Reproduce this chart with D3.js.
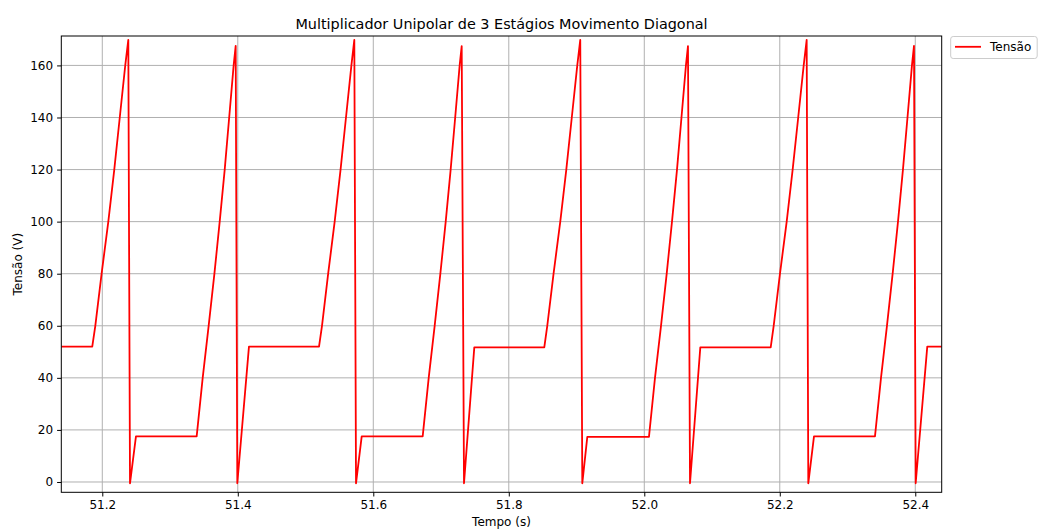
<!DOCTYPE html>
<html>
<head>
<meta charset="utf-8">
<script src="https://cdn.jsdelivr.net/npm/d3@7"></script>
<style>
  html, body { margin: 0; padding: 0; background: #fff; }
  svg { display: block; font-family: "DejaVu Sans", sans-serif; }
</style>
</head>
<body>
<svg id="chart" width="1038" height="532"></svg>
<script>
// ---- data ----
const tempo = [
  51.1395, 51.1852, 51.1897, 51.1990, 51.2089, 51.2177, 51.2258, 51.2339, 51.2384, 51.2409, 51.2497,
  51.3393, 51.3482, 51.3570, 51.3655, 51.3733, 51.3807, 51.3873, 51.3939, 51.3969, 51.3993, 51.4165,
  51.5199, 51.5243, 51.5334, 51.5430, 51.5517, 51.5597, 51.5677, 51.5720, 51.5745, 51.5829,
  51.6729, 51.6818, 51.6906, 51.6990, 51.7069, 51.7142, 51.7209, 51.7275, 51.7305, 51.7339, 51.7491,
  51.8524, 51.8568, 51.8661, 51.8760, 51.8849, 51.8930, 51.9011, 51.9055, 51.9085, 51.9159,
  52.0069, 52.0158, 52.0247, 52.0331, 52.0409, 52.0483, 52.0549, 52.0615, 52.0645, 52.0675, 52.0827,
  52.1866, 52.1910, 52.2003, 52.2102, 52.2190, 52.2272, 52.2353, 52.2397, 52.2421, 52.2505,
  52.3405, 52.3494, 52.3582, 52.3666, 52.3745, 52.3818, 52.3885, 52.3951, 52.3981, 52.4006, 52.4177, 52.4390
];
const tensao = [
  52.0, 52.0, 60, 80, 100, 120, 140, 160, 169.8, -0.5, 17.5,
  17.5, 40, 60, 80, 100, 120, 140, 160, 167.5, -0.5, 52.0,
  52.0, 60, 80, 100, 120, 140, 160, 169.8, -0.5, 17.5,
  17.5, 40, 60, 80, 100, 120, 140, 160, 167.4, -0.5, 51.7,
  51.7, 60, 80, 100, 120, 140, 160, 169.8, -0.5, 17.3,
  17.3, 40, 60, 80, 100, 120, 140, 160, 167.4, -0.5, 51.7,
  51.7, 60, 80, 100, 120, 140, 160, 169.8, -0.5, 17.5,
  17.5, 40, 60, 80, 100, 120, 140, 160, 167.5, -0.5, 52.0, 52.0
];
const xTicks = [51.2, 51.4, 51.6, 51.8, 52.0, 52.2, 52.4];
const yTicks = [0, 20, 40, 60, 80, 100, 120, 140, 160];
const xDomain = [51.1395, 52.4390];
const yDomain = [-3.96, 171.3];
const titulo = "Multiplicador Unipolar de 3 Estágios Movimento Diagonal";
const rotuloX = "Tempo (s)";
const rotuloY = "Tensão (V)";
const serieNome = "Tensão";

// ---- layout ----
const L = 61.3, R = 941.7, T = 36, B = 492.3;
const svg = d3.select("#chart");
const x = d3.scaleLinear().domain(xDomain).range([L, R]);
const y = d3.scaleLinear().domain(yDomain).range([B, T]);
const pts = tempo.map((t, i) => ({ t, v: tensao[i] }));

svg.append("defs").append("clipPath").attr("id", "clip")
  .append("rect").attr("x", L).attr("y", T).attr("width", R - L).attr("height", B - T);

// grid
const grid = svg.append("g");
grid.selectAll(".gx").data(xTicks).enter().append("line")
  .attr("x1", d => x(d)).attr("x2", d => x(d)).attr("y1", T).attr("y2", B)
  .attr("stroke", "#b0b0b0").attr("stroke-width", 1);
grid.selectAll(".gy").data(yTicks).enter().append("line")
  .attr("x1", L).attr("x2", R).attr("y1", d => y(d)).attr("y2", d => y(d))
  .attr("stroke", "#b0b0b0").attr("stroke-width", 1);

// line
svg.append("path").datum(pts)
  .attr("clip-path", "url(#clip)")
  .attr("fill", "none").attr("stroke", "#ff0000").attr("stroke-width", 1.8)
  .attr("stroke-linejoin", "round")
  .attr("d", d3.line().x(d => x(d.t)).y(d => y(d.v)));

// axes
const xAxis = d3.axisBottom(x).tickValues(xTicks).tickFormat(d3.format(".1f"))
  .tickSizeInner(4.2).tickSizeOuter(0).tickPadding(4);
const yAxis = d3.axisLeft(y).tickValues(yTicks).tickFormat(d3.format("d"))
  .tickSizeInner(4.2).tickSizeOuter(0).tickPadding(4);
const gx = svg.append("g").attr("transform", `translate(0,${B})`).call(xAxis);
const gy = svg.append("g").attr("transform", `translate(${L},0)`).call(yAxis);
[gx, gy].forEach(g => {
  g.select(".domain").remove();
  g.selectAll("line").attr("stroke", "#000").attr("stroke-width", 1);
  g.selectAll("text").attr("fill", "#000").style("font-size", "12px")
    .style("font-family", "DejaVu Sans, sans-serif");
});

// spines
svg.append("rect").attr("x", L).attr("y", T).attr("width", R - L).attr("height", B - T)
  .attr("fill", "none").attr("stroke", "#000").attr("stroke-width", 1);

// title & labels
svg.append("text").attr("x", (L + R) / 2).attr("y", 29).attr("text-anchor", "middle")
  .style("font-size", "14.4px").attr("fill", "#000").text(titulo);
svg.append("text").attr("x", (L + R) / 2).attr("y", 526).attr("text-anchor", "middle")
  .style("font-size", "12px").attr("fill", "#000").text(rotuloX);
svg.append("text").attr("transform", `translate(22,${(T + B) / 2}) rotate(-90)`)
  .attr("text-anchor", "middle").style("font-size", "12px").attr("fill", "#000").text(rotuloY);

// legend
const lg = svg.append("g");
lg.append("rect").attr("x", 950.7).attr("y", 36.5).attr("width", 86.5).attr("height", 22)
  .attr("rx", 2.5).attr("fill", "#fff").attr("fill-opacity", 0.8)
  .attr("stroke", "#cccccc").attr("stroke-width", 1);
lg.append("line").attr("x1", 955).attr("x2", 981).attr("y1", 46.8).attr("y2", 46.8)
  .attr("stroke", "#ff0000").attr("stroke-width", 1.8);
lg.append("text").attr("x", 990).attr("y", 51.3).style("font-size", "12px")
  .attr("fill", "#000").text(serieNome);
</script>
</body>
</html>
